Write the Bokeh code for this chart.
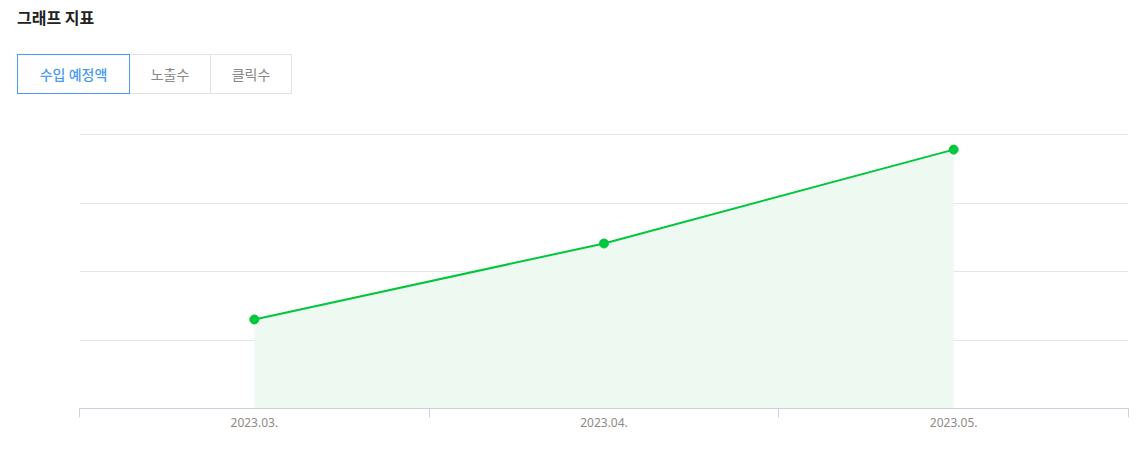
from bokeh.plotting import figure
from bokeh.layouts import column
from bokeh.models import Div, Range1d, FixedTicker
from bokeh.embed import file_html
from bokeh.resources import INLINE

# ---- data ----
months = ["2023.03.", "2023.04.", "2023.05."]
expected_revenue = [130, 241, 378]
y_ticks = [0, 100, 200, 300, 400]
tabs = ["수입 예정액", "노출수", "클릭수"]
title_text = "그래프 지표"

FONT = "'Noto Sans CJK KR', 'Noto Sans', sans-serif"

title = Div(
    text=(f'<div style="font-family:{FONT};font-size:16px;font-weight:bold;color:#222;'
          f'padding-left:9px;line-height:20px;margin-top:7px">{title_text}</div>'),
    width=1123, height=38, margin=(0, 0, 0, 0),
)

tab_html = '<div style="display:flex;margin-left:9px;margin-top:16px">'
widths = [113, 81, 81]
for i, (t, w) in enumerate(zip(tabs, widths)):
    if i == 0:
        style = (f"width:{w}px;height:40px;border:1px solid #4a9af5;color:#4a9af5;"
                 "font-weight:500;")
    else:
        style = (f"width:{w}px;height:40px;border:1px solid #e3e3e3;border-left:none;color:#888;")
    tab_html += (f'<div style="{style}display:flex;align-items:center;justify-content:center;'
                 f'font-family:{FONT};font-size:14px;box-sizing:border-box">{t}</div>')
tab_html += "</div>"
tab_div = Div(text=tab_html, width=1123, height=70, margin=(0, 0, 0, 0))

xs = [i + 0.5 for i in range(len(months))]

p = figure(width=1123, height=340, output_backend="svg", toolbar_location=None,
           x_range=Range1d(0, len(months)), y_range=Range1d(y_ticks[0], y_ticks[-1] + 1.5),
           min_border_left=71, min_border_right=3, min_border_top=25, min_border_bottom=40,
           margin=(0, 0, 0, 0))
p.outline_line_color = None
p.background_fill_color = "white"
p.border_fill_color = "white"

p.varea(x=xs, y1=[0] * len(xs), y2=expected_revenue, fill_color="#eef9f1")
p.line(xs, expected_revenue, line_color="#00c73c", line_width=2)
p.scatter(xs, expected_revenue, size=9, fill_color="#00c73c", line_color="#00c73c")

p.xaxis.ticker = FixedTicker(ticks=xs, minor_ticks=list(range(len(months) + 1)))
p.xaxis.major_label_overrides = {x: m for x, m in zip(xs, months)}
p.xaxis.major_tick_line_color = None
p.xaxis.minor_tick_line_color = "#c9d3e0"
p.xaxis.minor_tick_out = 9
p.xaxis.minor_tick_in = 0
p.xaxis.axis_line_color = "#c9d3e0"
p.xaxis.major_label_text_color = "#8f8a86"
p.xaxis.major_label_text_font = "Noto Sans"
p.xaxis.major_label_text_font_size = "12px"
p.xaxis.major_label_standoff = 0
p.xgrid.grid_line_color = None

p.yaxis.ticker = FixedTicker(ticks=y_ticks)
p.yaxis.visible = False
p.ygrid.ticker = FixedTicker(ticks=y_ticks)
p.ygrid.grid_line_color = "#e6e6e6"

layout = column(title, tab_div, p, spacing=0, margin=(0, 0, 0, 8))
open("out.html", "w").write(file_html(layout, INLINE))
